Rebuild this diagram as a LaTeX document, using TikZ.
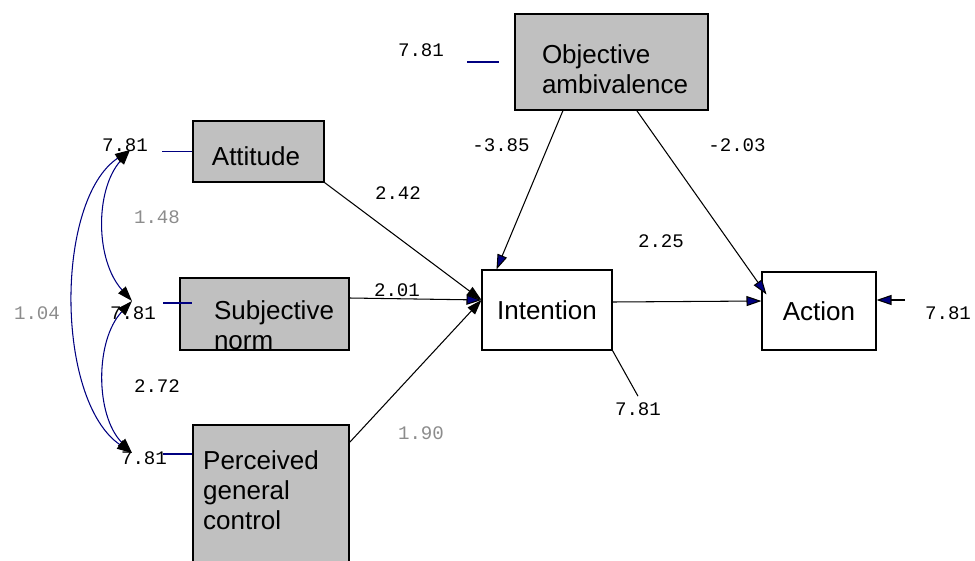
\documentclass[tikz,border=0pt]{standalone}
\usepackage{fontspec}
\setmainfont{Liberation Sans}
\setmonofont{Liberation Mono}
\usetikzlibrary{positioning, arrows.meta, calc}
\definecolor{semblue}{RGB}{0,0,128}
\definecolor{boxgray}{RGB}{192,192,192}
\definecolor{coefgray}{RGB}{140,140,140}

\begin{document}
\begin{tikzpicture}[
  x=0.02cm, y=-0.02cm,
  obs/.style={draw, line width=0.6pt, font=\fontsize{14.8}{17}\selectfont,
    align=left, inner sep=0pt},
  gobs/.style={obs, fill=boxgray},
  txt/.style={font=\fontsize{14.8}{17}\selectfont, align=left, inner sep=0pt},
  num/.style={font=\ttfamily\fontsize{10.9}{12}\selectfont, inner sep=0pt},
  gnum/.style={num, text=coefgray},
  path/.style={line width=0.6pt, -{Triangle[length=0.3cm, width=0.2cm, fill=black]}},
  bpath/.style={line width=0.6pt, -{Triangle[length=0.3cm, width=0.2cm, fill=semblue]}},
  cov/.style={semblue, line width=0.6pt,
    {Triangle[length=0.3cm, width=0.2cm, black]}-{Triangle[length=0.3cm, width=0.2cm, black]}},
  err/.style={semblue, line width=0.6pt},
]
\clip (0,0) rectangle (975,561);

% --- Observed variables ---
\node[gobs, minimum width=3.86cm, minimum height=1.92cm] (obj) at (611.5,62) {};
\node[txt] (objt) at (615,69) {Objective\\ambivalence};
\node[gobs, minimum width=2.62cm, minimum height=1.22cm] (att) at (258.5,151.5) {};
\node[txt] (attt) at (256,156) {Attitude};
\node[gobs, minimum width=3.38cm, minimum height=1.44cm] (sn)  at (264.5,314) {};
\node[txt] (snt) at (274,325) {Subjective\\norm};
\node[gobs, minimum width=3.12cm, minimum height=3cm] (pgc) at (271,500) {};
\node[txt] (pgct) at (261,490) {Perceived\\general\\control};
\node[obs, minimum width=2.6cm, minimum height=1.6cm]   (int) at (547,310) {Intention};
\node[obs, minimum width=2.28cm, minimum height=1.56cm] (act) at (819,311) {Action};

% --- Error variances ---
\node[num] (eobj) at (421,50)  {7.81};
\node[num] (eatt) at (125,145) {7.81};
\node[num] (esn)  at (133,313) {7.81};
\node[num] (epgc) at (144,458) {7.81};
\node[num] (eint) at (638,409) {7.81};
\node[num] (eact) at (948,313) {7.81};

\coordinate (lobj) at (467,62);
\coordinate (robj) at (499,62);
\coordinate (latt) at (162,151.5);
\coordinate (lsn)  at (163,303);
\coordinate (rsn)  at (192,303);
\coordinate (lpgc) at (163,454);
\coordinate (ract) at (905,300);

\draw[err] (lobj) -- (robj);
\draw[err] (latt) -- (att.west);
\draw[err] (lsn)  -- (rsn);
\draw[err] (lpgc) -- (lpgc -| pgc.west);

% --- Path coefficients ---
\node[num]  (c1) at (398,193) {2.42};
\node[num]  (c2) at (397,290) {2.01};
\node[gnum] (c3) at (421,433) {1.90};
\node[num]  (c4) at (501,145) {-3.85};
\node[num]  (c5) at (737,145) {-2.03};
\node[num]  (c6) at (661,241) {2.25};

\coordinate (iin) at ($(int.west)+(0,-10)$);

\draw[path]  (att.south east) -- (iin);
\draw[bpath] ($(sn.east)+(0,-16)$) -- (iin);
\draw[path]  ($(pgc.north east)+(0,18)$) -- (iin);
\draw[bpath] ($(obj.south west)!0.25!(obj.south east)$) -- ($(int.north west)+(15,0)$);
\draw[bpath] ($(obj.south west)!0.63!(obj.south east)$) -- ($(act.north west)+(5,23)$);
\draw[bpath] ($(int.east)+(0,-8)$) -- ($(act.west)+(0,-10)$);
\draw[bpath] (ract) -- ($(act.east)+(0,-11)$);
\draw[line width=0.6pt] (int.south east) -- ($(eint.north)+(0,-6)$);

% --- Covariances ---
\coordinate (cT) at (130,150);
\coordinate (cM) at (132,301);
\coordinate (cB) at (132,453);

\draw[cov] (cT) .. controls (95,190) and (95,260) .. (cM);
\draw[cov] (cM) .. controls (95,340) and (95,415) .. (cB);
\draw[cov] (cT) .. controls (55,200) and (55,400) .. (cB);

\node[gnum] (k1) at (157,217) {1.48};
\node[gnum] (k2) at (37,313)  {1.04};
\node[num]  (k3) at (157,386) {2.72};

\end{tikzpicture}
\end{document}
